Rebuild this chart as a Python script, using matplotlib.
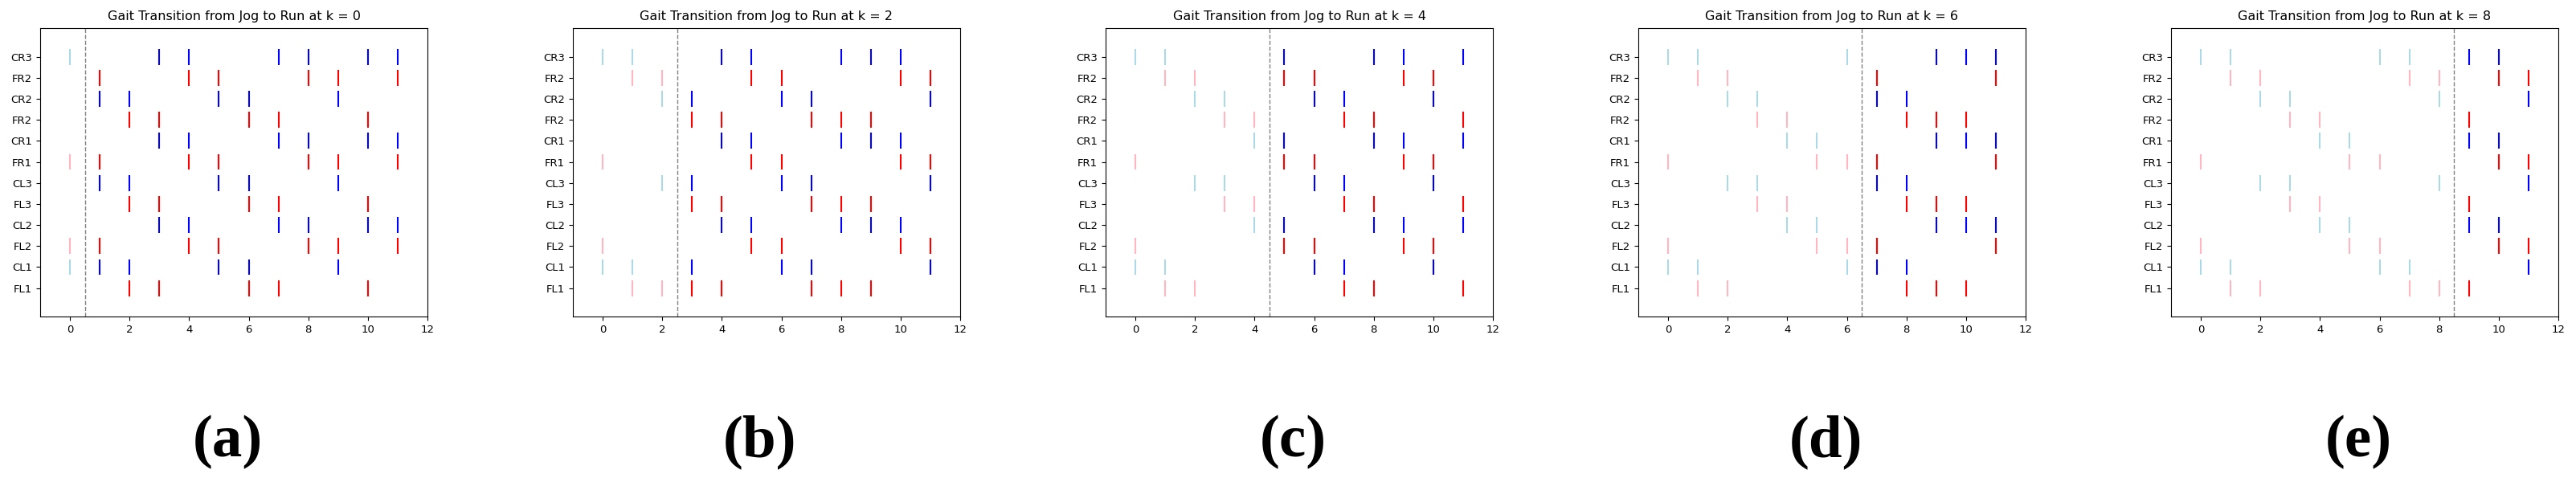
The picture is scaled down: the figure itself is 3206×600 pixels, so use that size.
import matplotlib
matplotlib.use("Agg")
import matplotlib.pyplot as plt

# Row labels, top to bottom (as printed in the reference)
row_labels = ['CR3', 'FR2', 'CR2', 'FR2', 'CR1', 'FR1',
              'CL3', 'FL3', 'CL2', 'FL2', 'CL1', 'FL1']

# Transition steps for the five panels
k_values = [0, 2, 4, 6, 8]
panel_tags = ['(a)', '(b)', '(c)', '(d)', '(e)']

# Event times per row (top to bottom), one list per panel
events_k0 = [
    [0, 3, 4, 7, 8, 10, 11],
    [1, 4, 5, 8, 9, 11],
    [1, 2, 5, 6, 9],
    [2, 3, 6, 7, 10],
    [3, 4, 7, 8, 10, 11],
    [0, 1, 4, 5, 8, 9, 11],
    [1, 2, 5, 6, 9],
    [2, 3, 6, 7, 10],
    [3, 4, 7, 8, 10, 11],
    [0, 1, 4, 5, 8, 9, 11],
    [0, 1, 2, 5, 6, 9],
    [2, 3, 6, 7, 10],
]
events_k2 = [
    [0, 1, 4, 5, 8, 9, 10],
    [1, 2, 5, 6, 10, 11],
    [2, 3, 6, 7, 11],
    [3, 4, 7, 8, 9],
    [4, 5, 8, 9, 10],
    [0, 5, 6, 10, 11],
    [2, 3, 6, 7, 11],
    [3, 4, 7, 8, 9],
    [4, 5, 8, 9, 10],
    [0, 5, 6, 10, 11],
    [0, 1, 3, 6, 7, 11],
    [1, 2, 3, 4, 7, 8, 9],
]
events_k4 = [
    [0, 1, 5, 8, 9, 11],
    [1, 2, 5, 6, 9, 10],
    [2, 3, 6, 7, 10],
    [3, 4, 7, 8, 11],
    [4, 5, 8, 9, 11],
    [0, 5, 6, 9, 10],
    [2, 3, 6, 7, 10],
    [3, 4, 7, 8, 11],
    [4, 5, 8, 9, 11],
    [0, 5, 6, 9, 10],
    [0, 1, 6, 7, 10],
    [1, 2, 7, 8, 11],
]
events_k6 = [
    [0, 1, 6, 9, 10, 11],
    [1, 2, 7, 11],
    [2, 3, 7, 8],
    [3, 4, 8, 9, 10],
    [4, 5, 9, 10, 11],
    [0, 5, 6, 7, 11],
    [2, 3, 7, 8],
    [3, 4, 8, 9, 10],
    [4, 5, 9, 10, 11],
    [0, 5, 6, 7, 11],
    [0, 1, 6, 7, 8],
    [1, 2, 8, 9, 10],
]
events_k8 = [
    [0, 1, 6, 7, 9, 10],
    [1, 2, 7, 8, 10, 11],
    [2, 3, 8, 11],
    [3, 4, 9],
    [4, 5, 9, 10],
    [0, 5, 6, 10, 11],
    [2, 3, 8, 11],
    [3, 4, 9],
    [4, 5, 9, 10],
    [0, 5, 6, 10, 11],
    [0, 1, 6, 7, 11],
    [1, 2, 7, 8, 9],
]
all_events = [events_k0, events_k2, events_k4, events_k6, events_k8]

# Styling
jog_colors = {'C': 'lightblue', 'F': 'lightpink'}
run_colors = {'C': 'blue', 'F': 'red'}

W, H = 3206, 600
fig = plt.figure(figsize=(W / 100, H / 100), dpi=100)

ax_w = 482 / W
ax_h = (394 - 35) / H
ax_bottom = 1 - 394 / H
n_rows = len(row_labels)

for i, (k, events, tag) in enumerate(zip(k_values, all_events, panel_tags)):
    left_px = 50 + 663 * i
    ax = fig.add_axes([left_px / W, ax_bottom, ax_w, ax_h])
    for r, (lab, times) in enumerate(zip(row_labels, events)):
        y = n_rows - 1 - r
        jog = [t for t in times if t < k + 0.5]
        run = [t for t in times if t > k + 0.5]
        if jog:
            ax.eventplot(jog, lineoffsets=y, linelengths=0.76,
                         colors=jog_colors[lab[0]], linewidths=1.5)
        if run:
            ax.eventplot(run, lineoffsets=y, linelengths=0.76,
                         colors=run_colors[lab[0]], linewidths=1.5)
    ax.axvline(k + 0.5, color='gray', linestyle='--', linewidth=1.0)
    ax.set_xlim(-1, 12)
    ax.set_xticks(range(0, 13, 2))
    ax.set_ylim(-1.35, n_rows - 1 + 1.36)
    ax.set_yticks(range(n_rows))
    ax.set_yticklabels(row_labels[::-1])
    ax.tick_params(labelsize=9.5)
    ax.set_title(f'Gait Transition from Jog to Run at k = {k}', fontsize=11.5, pad=7)
    cx = (left_px + 482 / 2 - 8) / W
    fig.text(cx, 1 - 550 / H, tag, ha='center', va='center',
             fontsize=54, fontweight='bold', family='Liberation Serif')

fig.savefig('out.png', dpi=100, facecolor='white')
